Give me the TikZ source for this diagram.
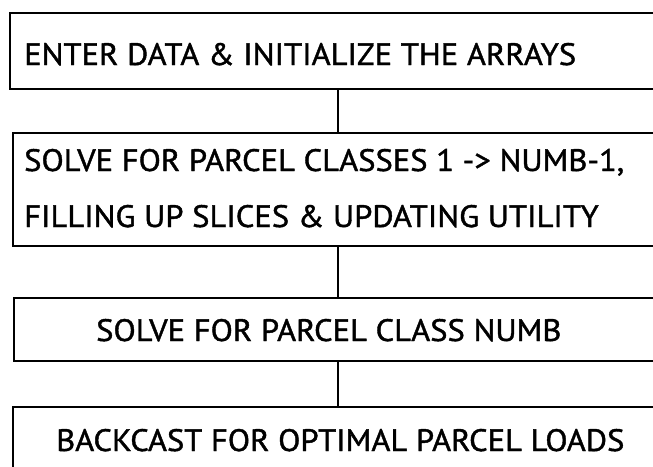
\documentclass[tikz,border=0pt]{standalone}
\usepackage{fontspec}
\newfontfamily\plotfont{PT Sans}[FakeStretch=1.05, FakeBold=1.3]
\begin{document}
\begin{tikzpicture}[x=1pt,y=-1pt,
  box/.style={draw=black, line width=1.8pt, rectangle, inner sep=0pt, anchor=north west},
  lbl/.style={inner sep=0pt, anchor=base west, font=\plotfont\fontsize{31}{31}\selectfont},
  link/.style={draw=black, line width=1.8pt}]
  \useasboundingbox (0,0) rectangle (653,466);
  \clip (0,0) rectangle (653,466);
  \fill[white] (0,0) rectangle (653,466);
  % process boxes (right sides run off the sheet)
  \node[box, minimum width=700pt, minimum height=76pt]  (b1) at (9,12)  {};
  \node[box, minimum width=700pt, minimum height=113pt] (b2) at (12,132) {};
  \node[box, minimum width=700pt, minimum height=63pt]  (b3) at (13,297) {};
  \node[box, minimum width=700pt, minimum height=120pt] (b4) at (12,406) {};
  % box texts
  \node[lbl] (t1)  at (24,65)  {ENTER DATA \& INITIALIZE THE ARRAYS};
  \node[lbl] (t2a) at (24,171) {SOLVE FOR PARCEL CLASSES 1 -> NUMB-1,};
  \node[lbl] (t2b) at (24,227) {FILLING UP SLICES \& UPDATING UTILITY};
  \node[lbl] (t3)  at (96,341) {SOLVE FOR PARCEL CLASS NUMB};
  \node[lbl] (t4)  at (56,451) {BACKCAST FOR OPTIMAL PARCEL LOADS};
  % flow line
  \coordinate (spine) at (338,0);
  \draw[link] (b1.south -| spine) -- (b2.north -| spine);
  \draw[link] (b2.south -| spine) -- (b3.north -| spine);
  \draw[link] (b3.south -| spine) -- (b4.north -| spine);
\end{tikzpicture}
\end{document}
